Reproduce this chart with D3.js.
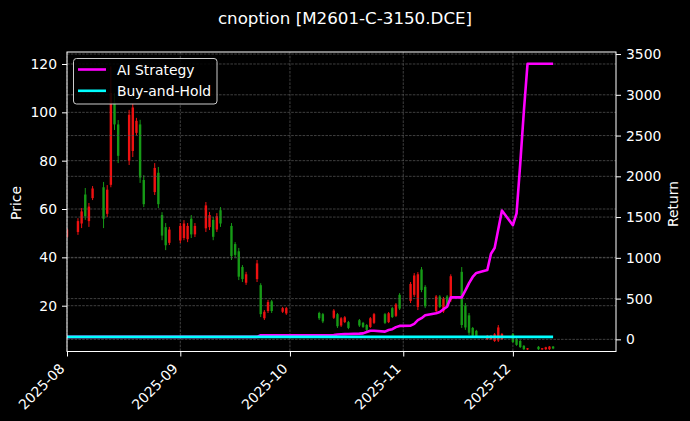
<!DOCTYPE html>
<html><head><meta charset="utf-8">
<script src="https://cdn.jsdelivr.net/npm/d3@7"></script>
<style>html,body{margin:0;padding:0;background:#000;}svg{display:block;}</style>
</head><body><svg id="chart" width="690" height="421"></svg>
<script>
// ---------- data ----------
const dates = [
 "2025-08-01","2025-08-04","2025-08-05","2025-08-06","2025-08-07","2025-08-08","2025-08-11","2025-08-12","2025-08-13","2025-08-14","2025-08-15","2025-08-18","2025-08-19","2025-08-20","2025-08-21","2025-08-22","2025-08-25","2025-08-26","2025-08-27","2025-08-28","2025-08-29",
 "2025-09-01","2025-09-02","2025-09-03","2025-09-04","2025-09-05","2025-09-08","2025-09-09","2025-09-10","2025-09-11","2025-09-12","2025-09-15","2025-09-16","2025-09-17","2025-09-18","2025-09-19","2025-09-22","2025-09-23","2025-09-24","2025-09-25","2025-09-26","2025-09-29","2025-09-30",
 "2025-10-09","2025-10-10","2025-10-13","2025-10-14","2025-10-15","2025-10-16","2025-10-17","2025-10-20","2025-10-21","2025-10-22","2025-10-23","2025-10-24","2025-10-27","2025-10-28","2025-10-29","2025-10-30","2025-10-31",
 "2025-11-03","2025-11-04","2025-11-05","2025-11-06","2025-11-07","2025-11-10","2025-11-11","2025-11-12","2025-11-13","2025-11-14","2025-11-17","2025-11-18","2025-11-19","2025-11-20","2025-11-21","2025-11-24","2025-11-25","2025-11-26","2025-11-27","2025-11-28",
 "2025-12-01","2025-12-02","2025-12-03","2025-12-04","2025-12-05","2025-12-08","2025-12-09","2025-12-10","2025-12-11","2025-12-12"
];
const open = [
 48.5,50.5,54,66,55,64.5,69,58,70,104,95,80,84,91.5,95,72,67,75,57.5,52.5,46,
 47,48,47.5,56,49.5,52,52.5,55.5,51.5,59.5,53,45.5,42.5,36,29.5,31,28.5,14.8,17.8,21.8,17.5,16.8,
 17,16.5,15,16.5,11.8,13.2,13.2,14,12.9,12,11.2,12.9,16.5,13.2,19,15.8,24.5,
 22,24.5,19.5,35,27.8,17.8,23.8,17.6,23.8,22.2,34,20,16,10.8,9.6,6.1,6.1,5.4,5.6,6.1,
 8.3,6.2,5.4,3.4,1.9,3,1.9,2,2,3.1
];
const high = [
 52,56.2,60.4,68.7,62.5,69.5,71.2,69.9,119,108,96.8,101,103.8,97.7,96.9,74,79,77.4,58.7,54.2,52.6,
 54.2,55.4,54.2,57.5,54.2,62.9,58.8,56.7,58.3,60.8,54.2,46.3,43.9,36.8,34,38.9,29.3,18.2,22.4,22.4,19.5,19.5,
 17.5,17,18.6,17,15.3,15.7,13.7,14.5,13.3,12.4,15.3,17,17,17.4,19.5,21.1,25.2,
 29.8,33.5,33.9,36,28.5,24.4,24.4,23.6,24.4,33,36,21.1,17,11.2,10,7.9,7.9,8.7,12,8.7,
 8.7,6.6,5.8,3.7,2.5,3.3,2.5,3,3.3,3.3
];
const low = [
 48,49.3,52.1,55.5,52.6,63.7,52.1,56.7,69,92.7,79,78.2,81.5,90.6,70.8,60.8,65.8,60.4,47.1,43,45.1,
 45.9,47.1,46.3,48,48.4,50.5,51.3,47.1,50.5,52.6,38.9,40.1,30.6,29.8,28.6,29.8,15.3,14.1,17,17,17,16.2,
 14.1,12.8,14.5,10.8,11.2,12.8,10.3,11.2,10.8,9.5,10.8,12.4,12.4,12.8,14.9,15.3,18.2,
 21.1,23.6,18.2,25.6,19,17,19,17,19.5,21.5,10.8,10,7.9,7.1,7.1,5.8,5.8,5,5,5.8,
 4.6,3.4,2.5,1.7,1.7,1.7,1.7,1.7,1.7,2
];
const close = [
 51.5,55,59,57,61,68.5,56,68,108,95,82,99,102,96.5,73,62,77,62,49,45,51.5,
 53,54,53,49.5,53,61.5,57.5,48.5,57,54,40.5,41,32,31,33,37.5,16.5,17.5,21.5,17.8,19,19,
 14.8,13.5,18,11.5,14.8,15.2,10.8,11.8,11.2,10,14.8,16.5,12.9,16.9,15.3,20.5,18.8,
 29,32.5,33,26.5,19.8,23.8,19.5,23,20,32.2,12,11,8.8,7.6,7.5,7.6,7.6,8.2,11,8.3,
 5,3.8,2.9,2,2.4,2,2.4,2.8,3.1,2.3
];
const aiReturn = [
 30,30,30,30,30,30,30,30,30,30,30,30,30,30,30,30,30,30,30,30,30,
 30,30,30,30,30,30,30,30,30,30,30,30,30,30,30,30,50,50,50,50,50,50,
 50,50,52,60,62,64,66,70,73,90,106,105,95,115,125,150,165,
 168,190,235,260,295,320,335,370,400,515,515,600,690,765,815,850,1050,1120,1350,1580,
 1400,1545,2150,2800,3380,3380,3380,3380,3380,3380
];
const bhReturn = [
 30,30,30,30,30,30,30,30,30,30,30,30,30,30,30,30,30,30,30,30,30,
 30,30,30,30,30,30,30,30,30,30,30,30,30,30,30,30,30,30,30,30,30,30,
 30,30,30,30,30,30,30,30,30,30,30,30,30,30,30,30,30,
 30,30,30,30,30,30,30,30,30,30,30,30,30,30,30,30,30,30,30,30,
 30,30,30,30,30,30,30,30,30,30
];
const priceTicks = [20,40,60,80,100,120];
const returnTicks = [0,500,1000,1500,2000,2500,3000,3500];
const monthTicks = ["2025-08-01","2025-09-01","2025-10-01","2025-11-01","2025-12-01"];
const seriesNames = ["AI Strategy","Buy-and-Hold"];
const title = "cnoption [M2601-C-3150.DCE]";

// ---------- layout ----------
const parse = d3.utcParse("%Y-%m-%d");
const L = 67, R = 616, T = 52, B = 351.5;
const FONT = "DejaVu Sans, Liberation Sans, sans-serif";
const svg = d3.select("#chart");
svg.append("rect").attr("width",690).attr("height",421).attr("fill","#000");

const x = d3.scaleUtc().domain([parse("2025-08-01"), new Date(Date.UTC(2025,11,29,5))]).range([L,R]);
const yP = d3.scaleLinear().domain([1.05,124.96]).range([B,T]);
const yR = d3.scaleLinear().domain([-149,3525]).range([B,T]);

const rows = dates.map((d,i)=>({date:parse(d),o:open[i],h:high[i],l:low[i],c:close[i],ai:aiReturn[i],bh:bhReturn[i]}));

svg.append("defs").append("clipPath").attr("id","clip").append("rect")
  .attr("x",L).attr("y",T).attr("width",R-L).attr("height",B-T);

// grid
const grid = svg.append("g").attr("stroke","#5a5a5a").attr("stroke-width",0.7).attr("stroke-dasharray","2.6,1.2");
monthTicks.forEach(m=>{const xx=x(parse(m)); grid.append("line").attr("x1",xx).attr("x2",xx).attr("y1",T).attr("y2",B);});
priceTicks.forEach(v=>grid.append("line").attr("x1",L).attr("x2",R).attr("y1",yP(v)).attr("y2",yP(v)));

// candles
const cg = svg.append("g").attr("clip-path","url(#clip)");
const bw = 2.4;
rows.forEach(r=>{
  const col = r.c >= r.o ? "#ee1111" : "#169a16";
  const cx = x(r.date);
  cg.append("line").attr("x1",cx).attr("x2",cx).attr("y1",yP(r.h)).attr("y2",yP(r.l)).attr("stroke",col).attr("stroke-width",1);
  const top = yP(Math.max(r.o,r.c)), bot = yP(Math.min(r.o,r.c));
  cg.append("rect").attr("x",cx-bw/2).attr("y",top).attr("width",bw).attr("height",Math.max(0.8,bot-top)).attr("fill",col);
});

// return grid (twin axis)
const grid2 = svg.append("g").attr("stroke","#5a5a5a").attr("stroke-width",0.7).attr("stroke-dasharray","2.6,1.2");
returnTicks.forEach(v=>grid2.append("line").attr("x1",L).attr("x2",R).attr("y1",yR(v)).attr("y2",yR(v)));

// lines
const lg = svg.append("g").attr("clip-path","url(#clip)");
lg.append("path").datum(rows).attr("fill","none").attr("stroke","#ff00ff").attr("stroke-width",2.6)
  .attr("stroke-linejoin","round").attr("d",d3.line().x(d=>x(d.date)).y(d=>yR(d.ai)));
lg.append("path").datum(rows).attr("fill","none").attr("stroke","#00ffff").attr("stroke-width",2.6)
  .attr("stroke-linejoin","round").attr("d",d3.line().x(d=>x(d.date)).y(d=>yR(d.bh)));

// axes
function styleAxis(g){
  g.selectAll("path").attr("stroke","#fff").attr("stroke-width",1);
  g.selectAll("line").attr("stroke","#fff").attr("stroke-width",1);
  g.selectAll("text").attr("fill","#fff").style("font-family",FONT).style("font-size","13.9px");
}
const gx = svg.append("g").attr("transform",`translate(0,${B})`)
  .call(d3.axisBottom(x).tickValues(monthTicks.map(parse)).tickFormat(d3.utcFormat("%Y-%m")).tickSizeInner(5).tickSizeOuter(0).tickPadding(5));
styleAxis(gx);
gx.select(".domain").remove();
gx.selectAll("text").attr("text-anchor","end").attr("dy",null).attr("y",null)
  .attr("transform","translate(-2,18) rotate(-45)");

const gl = svg.append("g").attr("transform",`translate(${L},0)`)
  .call(d3.axisLeft(yP).tickValues(priceTicks).tickFormat(d3.format("d")).tickSizeInner(5).tickSizeOuter(0).tickPadding(5));
styleAxis(gl); gl.select(".domain").remove();
const gr = svg.append("g").attr("transform",`translate(${R},0)`)
  .call(d3.axisRight(yR).tickValues(returnTicks).tickFormat(d3.format("d")).tickSizeInner(5).tickSizeOuter(0).tickPadding(5));
styleAxis(gr); gr.select(".domain").remove();

// frame
svg.append("rect").attr("x",L).attr("y",T).attr("width",R-L).attr("height",B-T)
  .attr("fill","none").attr("stroke","#fff").attr("stroke-width",1);

// labels
svg.append("text").attr("x",345).attr("y",24).attr("text-anchor","middle").attr("fill","#fff")
  .style("font-family",FONT).style("font-size","16.7px").text(title);
svg.append("text").attr("transform","translate(16,203) rotate(-90)").attr("text-anchor","middle")
  .attr("dominant-baseline","central").attr("fill","#fff").style("font-family",FONT).style("font-size","13.9px").text("Price");
svg.append("text").attr("transform","translate(673,204) rotate(-90)").attr("text-anchor","middle")
  .attr("dominant-baseline","central").attr("fill","#fff").style("font-family",FONT).style("font-size","13.9px").text("Return");

// legend
const leg = svg.append("g");
leg.append("rect").attr("x",73.5).attr("y",58.5).attr("width",143.5).attr("height",45.5).attr("rx",3)
  .attr("fill","#000").attr("fill-opacity",0.85).attr("stroke","#cccccc").attr("stroke-width",1);
const legColors = ["#ff00ff","#00ffff"];
seriesNames.forEach((n,i)=>{
  const yy = 69.5 + i*21.3;
  leg.append("line").attr("x1",78).attr("x2",106).attr("y1",yy).attr("y2",yy).attr("stroke",legColors[i]).attr("stroke-width",2.6);
  leg.append("text").attr("x",117).attr("y",yy).attr("dominant-baseline","central").attr("fill","#fff")
    .style("font-family",FONT).style("font-size","13.9px").text(n);
});
</script></body></html>
